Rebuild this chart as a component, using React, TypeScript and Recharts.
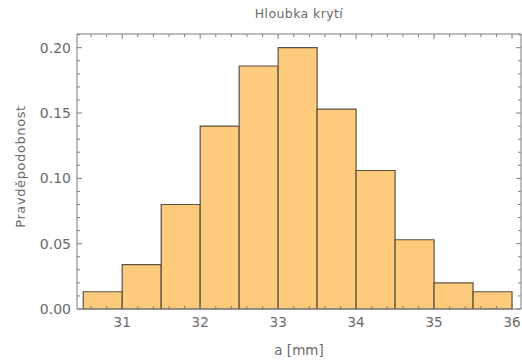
import React from 'react';
import { ComposedChart, XAxis, YAxis, ReferenceArea, Label } from 'recharts';

// ---- data ----
const binStarts = [30.5, 31, 31.5, 32, 32.5, 33, 33.5, 34, 34.5, 35, 35.5];
const binWidth = 0.5;
const probabilities = [0.0132, 0.034, 0.08, 0.14, 0.186, 0.2, 0.153, 0.106, 0.053, 0.02, 0.0132];
const xMajorTicks = [31, 32, 33, 34, 35, 36];
const yMajorTicks = [0, 0.05, 0.1, 0.15, 0.2];
const title = 'Hloubka krytí';
const xLabel = 'a [mm]';
const yLabel = 'Pravděpodobnost';

// minor tick positions (styling only)
const xTicksAll: number[] = [];
for (let i = 153; i <= 180; i++) xTicksAll.push(i / 5);
const yTicksAll: number[] = [];
for (let i = 0; i <= 21; i++) yTicksAll.push(i / 100);

const data = binStarts.map((s, i) => ({ x0: s, x1: s + binWidth, p: probabilities[i] }));

const FRAME = '#7d7d7d';
const TEXT = '#6a6a6a';
const FONT = 'DejaVu Sans';
const FILL = '#FDCB7B';
const EDGE = '#5b5146';

const isXMajor = (v: number) => xMajorTicks.some((m) => Math.abs(m - v) < 1e-6);
const isYMajor = (v: number) => yMajorTicks.some((m) => Math.abs(m - v) < 1e-6);

const BottomTick = (props: any) => {
  const { x, y, payload } = props;
  const v = payload.value;
  const major = isXMajor(v);
  return (
    <g>
      <line x1={x} x2={x} y1={y} y2={y - (major ? 5 : 3)} stroke={FRAME} strokeWidth={1} />
      {major && (
        <text x={x} y={y + 18} textAnchor="middle" fill={TEXT} fontSize={13.5} fontFamily={FONT}>
          {String(v)}
        </text>
      )}
    </g>
  );
};

const TopTick = (props: any) => {
  const { x, y, payload } = props;
  const major = isXMajor(payload.value);
  return <line x1={x} x2={x} y1={y} y2={y + (major ? 5 : 3)} stroke={FRAME} strokeWidth={1} />;
};

const LeftTick = (props: any) => {
  const { x, y, payload } = props;
  const v = payload.value;
  const major = isYMajor(v);
  return (
    <g>
      <line x1={x} x2={x + (major ? 5 : 3)} y1={y} y2={y} stroke={FRAME} strokeWidth={1} />
      {major && (
        <text x={x - 6} y={y + 5} textAnchor="end" fill={TEXT} fontSize={14} fontFamily={FONT}>
          {v.toFixed(2)}
        </text>
      )}
    </g>
  );
};

const RightTick = (props: any) => {
  const { x, y, payload } = props;
  const major = isYMajor(payload.value);
  return <line x1={x} x2={x - (major ? 5 : 3)} y1={y} y2={y} stroke={FRAME} strokeWidth={1} />;
};

export default function App() {
  return (
    <div style={{ position: 'absolute', left: 0, top: 0, width: 522, height: 360, background: '#fff' }}>
      <div
        style={{
          position: 'absolute',
          left: 77,
          width: 444,
          top: 8,
          textAlign: 'center',
          fontFamily: FONT,
          fontSize: 12.5,
          lineHeight: '12.5px',
          letterSpacing: 0.4,
          color: TEXT,
        }}
      >
        {title}
      </div>
      <ComposedChart
        width={522}
        height={360}
        data={data}
        margin={{ top: 30, right: 0, bottom: 0, left: 0 }}
      >
        {data.map((d, i) => (
          <ReferenceArea
            key={i}
            xAxisId="bottom"
            yAxisId="left"
            x1={d.x0}
            x2={d.x1}
            y1={0}
            y2={d.p}
            fill={FILL}
            fillOpacity={1}
            stroke={EDGE}
            strokeWidth={1.2}
            ifOverflow="visible"
          />
        ))}
        <XAxis
          xAxisId="bottom"
          orientation="bottom"
          type="number"
          dataKey="x0"
          domain={[30.42, 36.115]}
          ticks={xTicksAll}
          interval={0}
          allowDataOverflow
          height={51}
          tickSize={0}
          tickMargin={0}
          tickLine={false}
          tick={<BottomTick />}
          axisLine={{ stroke: FRAME, strokeWidth: 1 }}
        >
          <Label
            content={(p: any) => {
              const vb = p.viewBox;
              return (
                <text
                  x={vb.x + vb.width / 2}
                  y={vb.y + vb.height - 5}
                  textAnchor="middle"
                  fill={TEXT}
                  fontSize={13.5}
                  fontFamily={FONT}
                >
                  {xLabel}
                </text>
              );
            }}
          />
        </XAxis>
        <XAxis
          xAxisId="top"
          orientation="top"
          type="number"
          dataKey="x0"
          domain={[30.42, 36.115]}
          ticks={xTicksAll}
          interval={0}
          allowDataOverflow
          height={4}
          tickSize={0}
          tickMargin={0}
          tickLine={false}
          tick={<TopTick />}
          axisLine={{ stroke: FRAME, strokeWidth: 1 }}
        />
        <YAxis
          yAxisId="left"
          orientation="left"
          type="number"
          dataKey="p"
          domain={[0, 0.2105]}
          ticks={yTicksAll}
          interval={0}
          allowDataOverflow
          width={77}
          tickSize={0}
          tickMargin={0}
          tickLine={false}
          tick={<LeftTick />}
          axisLine={{ stroke: FRAME, strokeWidth: 1 }}
        >
          <Label
            content={(p: any) => {
              const vb = p.viewBox;
              const cx = 25;
              const cy = vb.y + vb.height / 2 - 5;
              return (
                <text
                  x={cx}
                  y={cy}
                  transform={`rotate(-90, ${cx}, ${cy})`}
                  textAnchor="middle"
                  fill={TEXT}
                  fontSize={13}
                  letterSpacing={0.6}
                  fontFamily={FONT}
                >
                  {yLabel}
                </text>
              );
            }}
          />
        </YAxis>
        <YAxis
          yAxisId="right"
          orientation="right"
          type="number"
          dataKey="p"
          domain={[0, 0.2105]}
          ticks={yTicksAll}
          interval={0}
          allowDataOverflow
          width={1}
          tickSize={0}
          tickMargin={0}
          tickLine={false}
          tick={<RightTick />}
          axisLine={{ stroke: FRAME, strokeWidth: 1 }}
        />
      </ComposedChart>
    </div>
  );
}
